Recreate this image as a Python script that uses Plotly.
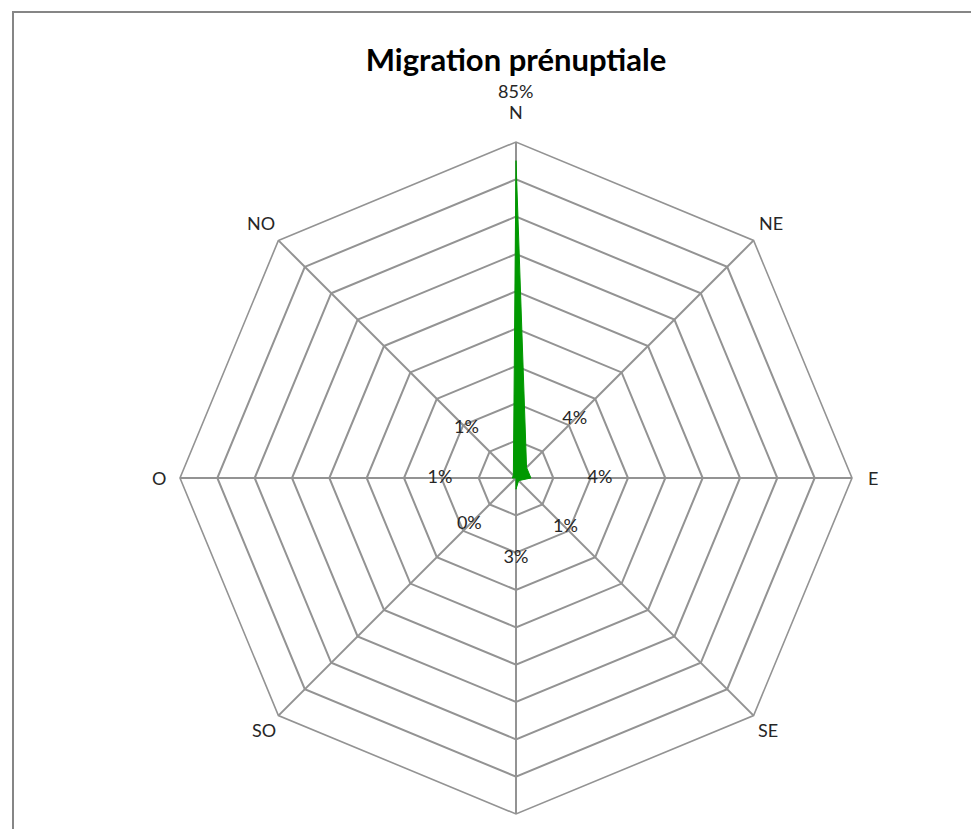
import math
import plotly.graph_objects as go

directions = ["N", "NE", "E", "SE", "S", "SO", "O", "NO"]
values = [85, 4, 4, 1, 3, 0, 1, 1]
value_labels = ["85%", "4%", "4%", "1%", "3%", "0%", "1%", "1%"]

# label placement (pixels from centre) -- styling, not data
value_label_px = [387, 83, 84, 70, 80, 66, 76, 70]
dir_label_px = [366, 360, 357, 357, 358, 357, 357, 360]

OFF = 8  # default body margin of the html page
W, H = 979 - OFF, 829 - OFF
cx, cy, R = 516 - OFF, 478 - OFF, 336
RMAX = 90
GRID = "#939393"
TXT = "#262626"
FONT = "Lato"
FS = 18

fig = go.Figure()
fig.add_trace(go.Scatterpolar(
    r=values + [values[0]], theta=directions + [directions[0]],
    mode="lines", fill="toself", fillcolor="#009900",
    line=dict(color="#009900", width=1), hoverinfo="skip", showlegend=False))

in_r, in_t, in_txt = [], [], []
annotations = []
for i, (d, lab, px) in enumerate(zip(directions, value_labels, value_label_px)):
    rr = px * RMAX / R
    if rr <= RMAX:
        in_r.append(rr); in_t.append(d); in_txt.append(lab)
    else:
        ang = math.radians(i * 45)
        annotations.append(dict(
            x=(cx + px * math.sin(ang)) / W, y=1 - (cy - px * math.cos(ang)) / H,
            xref="paper", yref="paper", text=lab, showarrow=False,
            xanchor="center", yanchor="middle",
            font=dict(family=FONT, size=FS, color=TXT)))

fig.add_trace(go.Scatterpolar(
    r=in_r, theta=in_t, mode="text", text=in_txt,
    textposition="middle center", cliponaxis=False,
    textfont=dict(family=FONT, size=FS, color=TXT), showlegend=False, hoverinfo="skip"))

for i, (d, px) in enumerate(zip(directions, dir_label_px)):
    ang = math.radians(i * 45)
    yy = cy - px * math.cos(ang)
    if yy > H - 10:  # label lies outside the visible page (as in the original)
        continue
    annotations.append(dict(
        x=(cx + px * math.sin(ang)) / W, y=1 - yy / H,
        xref="paper", yref="paper", text=d, showarrow=False,
        xanchor="center", yanchor="middle",
        font=dict(family=FONT, size=FS, color=TXT)))

fig.update_layout(
    width=W, height=H, margin=dict(l=0, r=0, t=0, b=0),
    paper_bgcolor="white", plot_bgcolor="white",
    title=dict(text="<b>Migration prénuptiale</b>", x=cx / W, xanchor="center",
               y=1 - (60 - OFF) / H, yanchor="middle",
               font=dict(family=FONT, size=31, color="black")),
    polar=dict(
        domain=dict(x=[(cx - R) / W, (cx + R) / W], y=[1 - (cy + R) / H, 1 - (cy - R) / H]),
        bgcolor="white",
        gridshape="linear",
        radialaxis=dict(range=[0, RMAX], dtick=10, showticklabels=False, ticks="",
                        showline=False, gridcolor=GRID, gridwidth=1.6),
        angularaxis=dict(direction="clockwise", rotation=90, categoryorder="array",
                         categoryarray=directions, ticks="", showline=True,
                         showticklabels=False,
                         linecolor=GRID, linewidth=1.6, gridcolor=GRID, gridwidth=1.6),
    ),
    annotations=annotations,
    shapes=[dict(type="rect", xref="paper", yref="paper",
                 x0=(13 - OFF) / W, x1=1.1, y0=-0.1, y1=1 - (12 - OFF) / H,
                 line=dict(color="#868686", width=2), fillcolor="rgba(0,0,0,0)")],
)
fig.write_html("out.html")
